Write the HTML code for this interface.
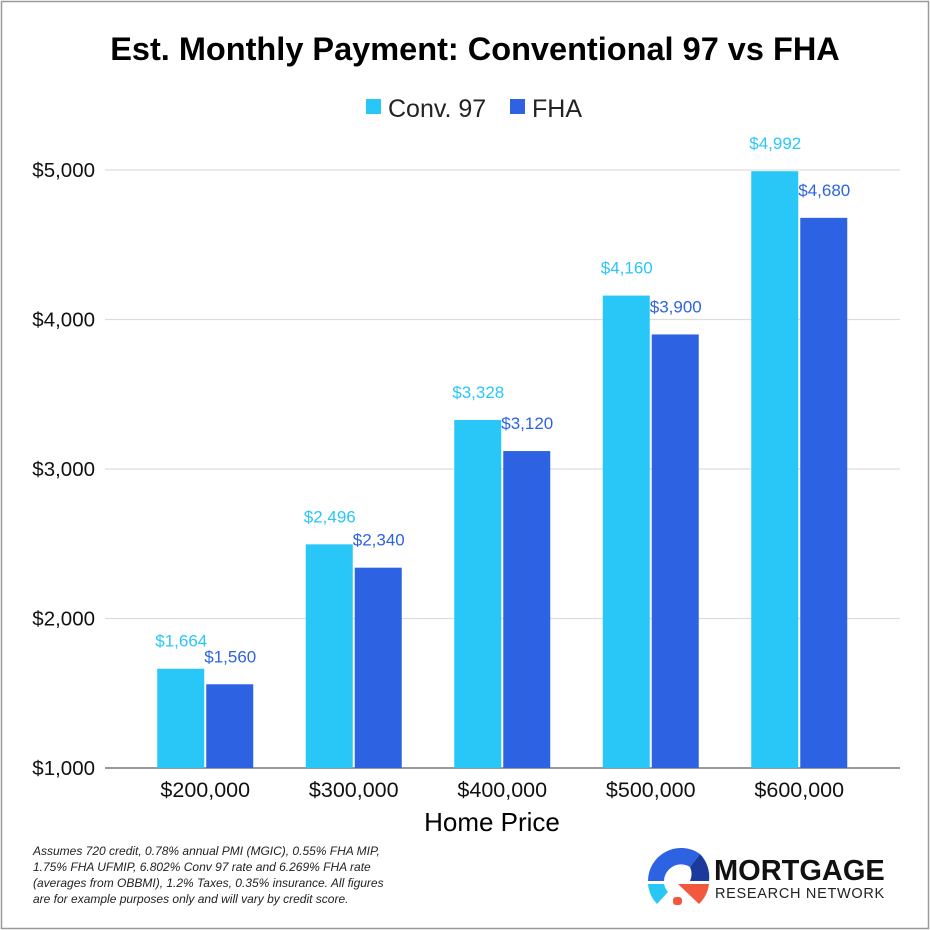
<!DOCTYPE html>
<html><head><meta charset="utf-8"><style>
body{margin:0;background:#fff;}
svg{display:block;font-family:"Liberation Sans",Arial,sans-serif;}
</style></head><body>
<svg id="c" width="930" height="930" viewBox="0 0 930 930">
<rect x="1.5" y="1.5" width="927" height="927" fill="#fff" stroke="#9a9a9a" stroke-width="1.5"/>
<text x="475" y="60" text-anchor="middle" font-size="32.5" font-weight="bold" fill="#000">Est. Monthly Payment: Conventional 97 vs FHA</text>
<g>
<rect x="366" y="99" width="15" height="15" fill="#29c6f8"/>
<text x="388" y="117" font-size="25" fill="#222">Conv. 97</text>
<rect x="510" y="99" width="15" height="15" fill="#2d63e3"/>
<text x="532" y="117" font-size="25" fill="#222">FHA</text>
</g>
<g id="grid"></g><g id="bars"></g>
<text x="492" y="831" text-anchor="middle" font-size="26" fill="#000">Home Price</text>
<g font-size="12" font-style="italic" fill="#222">
<text x="33" y="855">Assumes 720 credit, 0.78% annual PMI (MGIC), 0.55% FHA MIP,</text>
<text x="33" y="871">1.75% FHA UFMIP, 6.802% Conv 97 rate and 6.269% FHA rate</text>
<text x="33" y="887">(averages from OBBMI), 1.2% Taxes, 0.35% insurance. All figures</text>
<text x="33" y="903">are for example purposes only and will vary by credit score.</text>
</g>
<g>
<path d="M648,881 A33,33 0 0 1 700,854 L690,867 A17,17 0 0 0 664,881 Z" fill="#2d63e3"/>
<path d="M700,854 A33,33 0 0 1 709,881 L690,881 A17,17 0 0 0 690,867 Z" fill="#1c3a9c"/>
<path d="M648,884 L664,884 A17,17 0 0 0 668,892 L657,904 A33,33 0 0 1 648,884 Z" fill="#29c6f8"/>
<path d="M678,884 L709,884 A33,33 0 0 1 699,904 Z" fill="#f2583e"/>
<rect x="673" y="897" width="9" height="8" rx="3" fill="#f2583e"/>
<text x="714" y="880" font-size="29" font-weight="bold" fill="#111">MORTGAGE</text>
<text x="715" y="898" font-size="14.5" fill="#222" letter-spacing="0.7">RESEARCH NETWORK</text>
</g>
</svg>
<script>
const categories=["$200,000","$300,000","$400,000","$500,000","$600,000"];
const convValues=[1664,2496,3328,4160,4992];
const fhaValues=[1560,2340,3120,3900,4680];
const yTicks=[1000,2000,3000,4000,5000];
const NS="http://www.w3.org/2000/svg";
const y=v=>768-(v-1000)*0.1495;
const x0=131,band=148.5;
const xc=i=>x0+band*(i+0.5);
function mk(t,a,p){const e=document.createElementNS(NS,t);for(const k in a)e.setAttribute(k,a[k]);p.appendChild(e);return e;}
const g=document.getElementById('grid'),b=document.getElementById('bars');
yTicks.forEach(v=>{
 const l=mk('line',{x1:105,x2:900,y1:y(v),y2:y(v),stroke:v===1000?'#333':'#ddd','stroke-width':v===1000?1:1.2},g);
 
 
 const t=mk('text',{x:95,y:y(v)+7,'text-anchor':'end','font-size':20.5,fill:'#111'},g);
 t.textContent='$'+v.toLocaleString('en-US');
 
 
});
const fmt=v=>'$'+v.toLocaleString('en-US');
categories.forEach((c,i)=>{
 const cx=xc(i);
 const r1=mk('rect',{x:cx-48,y:y(convValues[i]),width:47,height:768-y(convValues[i]),fill:'#29c6f8'},b);
 
 
 const r2=mk('rect',{x:cx+1,y:y(fhaValues[i]),width:47,height:768-y(fhaValues[i]),fill:'#2d63e3'},b);
 
 
 const t1=mk('text',{x:cx-24,y:y(convValues[i])-22,'text-anchor':'middle','font-size':17,fill:'#29c6f8'},b);
 t1.textContent=fmt(convValues[i]);
 
 
 const t2=mk('text',{x:cx+25,y:y(fhaValues[i])-22,'text-anchor':'middle','font-size':17,fill:'#2d63e3'},b);
 t2.textContent=fmt(fhaValues[i]);
 
 
 const xl=mk('text',{x:cx,y:797,'text-anchor':'middle','font-size':21.5,fill:'#111'},b);
 xl.textContent=c;
 
 
});
</script>
</body></html>
